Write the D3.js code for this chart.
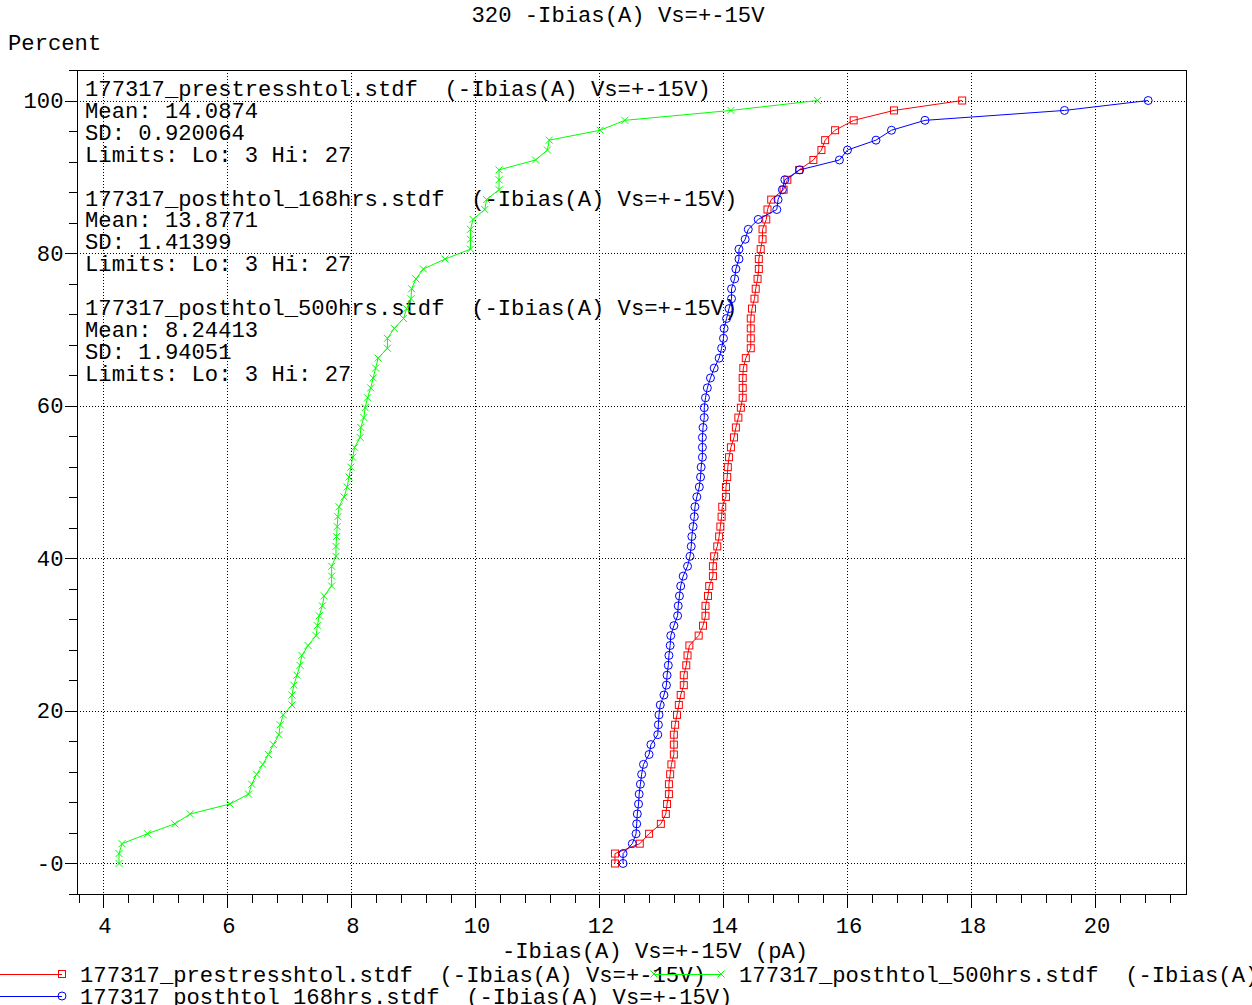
<!DOCTYPE html>
<html>
<head>
<meta charset="utf-8">
<script src="https://cdn.jsdelivr.net/npm/d3@7"></script>
<style>
  html, body { margin: 0; padding: 0; background: #fff; }
  svg { display: block; }
  text { font-family: "Courier New", "Liberation Mono", monospace; font-size: 22.2px; fill: #000; }
</style>
</head>
<body>
<svg id="chart" width="1252" height="1005"></svg>
<script>
// Measured -Ibias(A) at Vs=+-15V, one value per part, sorted ascending (pA)
const prestress = [12.25, 12.25, 12.65, 12.80, 12.99, 13.07, 13.09, 13.12, 13.12, 13.14,
  13.16, 13.20, 13.20, 13.20, 13.22, 13.25, 13.28, 13.31, 13.36, 13.36,
  13.40, 13.42, 13.45, 13.60, 13.67, 13.71, 13.71, 13.75, 13.77, 13.83,
  13.83, 13.85, 13.90, 13.93, 13.95, 13.97, 13.98, 14.04, 14.04, 14.06,
  14.07, 14.09, 14.12, 14.17, 14.20, 14.24, 14.28, 14.31, 14.31, 14.31,
  14.32, 14.36, 14.44, 14.44, 14.44, 14.44, 14.46, 14.50, 14.52, 14.55,
  14.57, 14.57, 14.60, 14.63, 14.63, 14.69, 14.71, 14.77, 14.97, 15.03,
  15.22, 15.45, 15.58, 15.64, 15.80, 16.10, 16.75, 17.85];

const posthtol168 = [12.38, 12.38, 12.53, 12.59, 12.60, 12.61, 12.63, 12.64, 12.66, 12.68,
  12.71, 12.80, 12.83, 12.94, 12.95, 12.96, 12.98, 13.04, 13.08, 13.09,
  13.11, 13.12, 13.14, 13.15, 13.20, 13.26, 13.27, 13.29, 13.31, 13.35,
  13.42, 13.46, 13.48, 13.49, 13.51, 13.53, 13.54, 13.57, 13.61, 13.63,
  13.64, 13.66, 13.66, 13.66, 13.67, 13.69, 13.69, 13.71, 13.74, 13.79,
  13.85, 13.93, 13.97, 14.00, 14.01, 14.05, 14.09, 14.13, 14.13, 14.18,
  14.20, 14.25, 14.25, 14.35, 14.40, 14.56, 14.86, 14.88, 14.95, 14.99,
  15.23, 15.87, 16.00, 16.46, 16.71, 17.25, 19.50, 20.85];

const posthtol500 = [4.25, 4.25, 4.30, 4.71, 5.15, 5.40, 6.04, 6.34, 6.39, 6.47,
  6.57, 6.66, 6.74, 6.83, 6.85, 6.90, 7.04, 7.04, 7.07, 7.12,
  7.17, 7.20, 7.30, 7.43, 7.45, 7.48, 7.53, 7.56, 7.68, 7.68,
  7.68, 7.75, 7.75, 7.76, 7.77, 7.78, 7.80, 7.88, 7.93, 7.96,
  7.99, 8.02, 8.05, 8.14, 8.15, 8.20, 8.22, 8.26, 8.31, 8.35,
  8.39, 8.43, 8.58, 8.58, 8.69, 8.84, 8.89, 8.96, 8.97, 9.04,
  9.16, 9.51, 9.92, 9.92, 9.92, 9.96, 10.15, 10.18, 10.38, 10.38,
  10.38, 10.97, 11.16, 11.19, 12.01, 12.41, 14.12, 15.52];

// Series labels and summary statistics
const fileNames = ["177317_prestresshtol.stdf", "177317_posthtol_168hrs.stdf", "177317_posthtol_500hrs.stdf"];
const paramName = "(-Ibias(A) Vs=+-15V)";
const means = ["14.0874", "13.8771", "8.24413"];
const sds = ["0.920064", "1.41399", "1.94051"];
const limitsLo = 3, limitsHi = 27;

// Axis ticks
const xTickValues = [4, 6, 8, 10, 12, 14, 16, 18, 20];
const yTickValues = [0, 20, 40, 60, 80, 100];
const yTickLabels = ["-0", "20", "40", "60", "80", "100"];

const svg = d3.select("#chart");
const W = 1252, H = 1005;
const plot = { left: 77, right: 1186, top: 70, bottom: 894 };

const x = d3.scaleLinear().domain([3.573, 21.46]).range([plot.left, plot.right]);
const y = d3.scaleLinear().domain([-4, 104]).range([plot.bottom, plot.top]);

svg.append("rect").attr("width", W).attr("height", H).attr("fill", "#fff");

// Dotted grid
const grid = svg.append("g").attr("shape-rendering", "crispEdges");
grid.selectAll("line.gx").data(xTickValues).join("line")
  .attr("x1", d => Math.round(x(d)) + 0.5).attr("x2", d => Math.round(x(d)) + 0.5)
  .attr("y1", plot.top).attr("y2", plot.bottom)
  .attr("stroke", "#000").attr("stroke-dasharray", "1,2");
grid.selectAll("line.gy").data(yTickValues).join("line")
  .attr("y1", d => Math.round(y(d)) + 0.5).attr("y2", d => Math.round(y(d)) + 0.5)
  .attr("x1", plot.left).attr("x2", plot.right)
  .attr("stroke", "#000").attr("stroke-dasharray", "1,2");

// Axes: minor ticks every 0.4 (x) and 4 (y), labelled major ticks
const xMinor = d3.range(9, 54).map(k => +(k * 0.4).toFixed(1)).filter(v => x(v) >= plot.left - 0.5 && x(v) <= plot.right);
const yMinor = d3.range(-1, 27).map(k => k * 4);

const bottomY = Math.round(plot.bottom) + 0.5;
const leftX = plot.left + 0.5;

const xAxisMinor = svg.append("g").attr("transform", `translate(0,${bottomY})`)
  .call(d3.axisBottom(x).tickValues(xMinor).tickSize(8).tickFormat(""));
const xAxisMajor = svg.append("g").attr("transform", `translate(0,${bottomY})`)
  .call(d3.axisBottom(x).tickValues(xTickValues).tickSize(13).tickPadding(10).tickFormat(d3.format("d")));
const yAxisMinor = svg.append("g").attr("transform", `translate(${leftX},0)`)
  .call(d3.axisLeft(y).tickValues(yMinor).tickSize(9).tickFormat(""));
const yAxisMajor = svg.append("g").attr("transform", `translate(${leftX},0)`)
  .call(d3.axisLeft(y).tickValues(yTickValues).tickSize(13).tickPadding(1)
    .tickFormat((d, i) => yTickLabels[i]));

[xAxisMinor, xAxisMajor, yAxisMinor, yAxisMajor].forEach(g => {
  g.select(".domain").remove();
  g.selectAll("line").attr("stroke", "#000").attr("shape-rendering", "crispEdges");
  g.selectAll("text").attr("font-family", null).attr("font-size", null).attr("fill", "#000");
});
xAxisMajor.selectAll("text").attr("dx", "1");

// Frame
const frame = svg.append("g").attr("fill", "none").attr("stroke", "#000").attr("shape-rendering", "crispEdges");
frame.append("line").attr("x1", leftX).attr("x2", leftX).attr("y1", plot.top).attr("y2", plot.bottom);
frame.append("line").attr("x1", plot.left).attr("x2", plot.right).attr("y1", plot.top + 0.5).attr("y2", plot.top + 0.5);
frame.append("line").attr("x1", plot.right + 0.5).attr("x2", plot.right + 0.5).attr("y1", plot.top).attr("y2", bottomY);
frame.append("line").attr("x1", plot.left).attr("x2", plot.right + 1).attr("y1", bottomY).attr("y2", bottomY);

// Summary text block
const statsLines = [];
fileNames.forEach((f, i) => {
  statsLines.push(`${f}  ${paramName}`);
  statsLines.push(`Mean: ${means[i]}`);
  statsLines.push(`SD: ${sds[i]}`);
  statsLines.push(`Limits: Lo: ${limitsLo} Hi: ${limitsHi}`);
  statsLines.push("");
});
svg.append("g").selectAll("text").data(statsLines).join("text")
  .attr("x", 85).attr("y", (d, i) => 96 + i * 21.9)
  .attr("xml:space", "preserve")
  .style("white-space", "pre")
  .text(d => d);

// Series: cumulative percent from rank
const cumulative = vals => vals.map((v, i) => ({ x: v, p: i * 100 / (vals.length - 1) }));

const markers = {
  square: g => g.append("rect").attr("x", -3.5).attr("y", -3.5).attr("width", 7).attr("height", 7),
  circle: g => g.append("circle").attr("r", 4),
  cross: g => g.append("path").attr("d", "M-3.5,-3.5L3.5,3.5M-3.5,3.5L3.5,-3.5")
};

const series = [
  { values: prestress, color: "#ff0000", marker: "square" },
  { values: posthtol168, color: "#0000ff", marker: "circle" },
  { values: posthtol500, color: "#00ff00", marker: "cross" }
];

const line = d3.line().x(d => x(d.x)).y(d => y(d.p));

series.forEach(s => {
  const pts = cumulative(s.values);
  const g = svg.append("g");
  g.append("path").datum(pts).attr("d", line)
    .attr("fill", "none").attr("stroke", s.color).attr("stroke-width", 1);
  g.selectAll("g.m").data(pts).join("g")
    .attr("transform", d => `translate(${x(d.x)},${y(d.p)})`)
    .each(function () { markers[s.marker](d3.select(this)); })
    .attr("fill", "none").attr("stroke", s.color).attr("stroke-width", 1);
});

// Titles
svg.append("text").attr("x", 618).attr("y", 22).attr("text-anchor", "middle")
  .text("320 -Ibias(A) Vs=+-15V");
svg.append("text").attr("x", 8).attr("y", 50).text("Percent");
svg.append("text").attr("x", 655).attr("y", 958).attr("text-anchor", "middle")
  .text("-Ibias(A) Vs=+-15V (pA)");

// Legend
const legendItems = [
  { s: series[0], name: fileNames[0], x0: -5, y0: 974 },
  { s: series[2], name: fileNames[2], x0: 654, y0: 974 },
  { s: series[1], name: fileNames[1], x0: -5, y0: 996 }
];
const legend = svg.append("g");
legendItems.forEach(it => {
  const g = legend.append("g");
  g.append("line").attr("x1", it.x0).attr("x2", it.x0 + 67)
    .attr("y1", it.y0 + 0.5).attr("y2", it.y0 + 0.5)
    .attr("stroke", it.s.color).attr("shape-rendering", "crispEdges");
  [it.x0, it.x0 + 67].forEach(mx => {
    const m = g.append("g").attr("transform", `translate(${mx},${it.y0})`)
      .attr("fill", "none").attr("stroke", it.s.color);
    markers[it.s.marker](m);
  });
  g.append("text").attr("x", it.x0 + 85).attr("y", it.y0 + 8)
    .attr("xml:space", "preserve").style("white-space", "pre")
    .text(`${it.name}  ${paramName}`);
});
</script>
</body>
</html>
